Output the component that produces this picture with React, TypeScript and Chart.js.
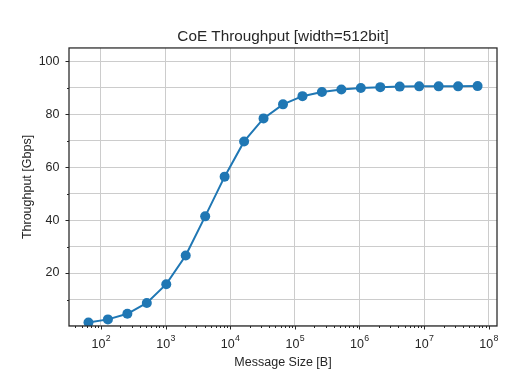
import { useEffect, useRef } from "react";
import { Chart, registerables } from "chart.js";

Chart.register(...registerables);

// ---- data ----
const MESSAGE_SIZES = [
  64, 128, 256, 512, 1024, 2048, 4096, 8192, 16384, 32768, 65536, 131072,
  262144, 524288, 1048576, 2097152, 4194304, 8388608, 16777216, 33554432,
  67108864,
];
const THROUGHPUT_GBPS = [
  1.3, 2.5, 4.6, 8.7, 15.8, 26.6, 41.4, 56.4, 69.7, 78.4, 83.7, 86.8, 88.4,
  89.3, 89.9, 90.2, 90.4, 90.5, 90.5, 90.5, 90.6,
];
const X_EXPONENTS = [2, 3, 4, 5, 6, 7, 8];
const Y_TICK_LABELS = [20, 40, 60, 80, 100];
const X_MIN = 32;
const X_MAX = 134217728;
const Y_MIN = 0;
const Y_MAX = 105;

const TITLE = "CoE Throughput [width=512bit]";
const X_TITLE = "Message Size [B]";
const Y_TITLE = "Throughput [Gbps]";

// ---- styles ----
const TEXT = "#262626";
const GRID = "#cccccc";
const LINE = "#1f77b4";
const FONT = "'Liberation Sans', Arial, Helvetica, sans-serif";

const isPow10 = (v: number) => {
  const l = Math.log10(v);
  return Math.abs(l - Math.round(l)) < 1e-9;
};

const mplAxesPlugin = {
  id: "mplAxes",
  afterDraw(chart: any) {
    const { ctx, chartArea } = chart;
    const xs = chart.scales.x;
    const ys = chart.scales.y;
    ctx.save();
    // frame
    ctx.strokeStyle = TEXT;
    ctx.lineWidth = 1.25;
    ctx.strokeRect(
      chartArea.left,
      chartArea.top,
      chartArea.right - chartArea.left,
      chartArea.bottom - chartArea.top
    );
    // x tick marks
    ctx.lineWidth = 1;
    ctx.beginPath();
    for (const t of xs.ticks) {
      const px = Math.round(xs.getPixelForValue(t.value)) + 0.5;
      const len = isPow10(t.value) ? 3.5 : 2;
      ctx.moveTo(px, chartArea.bottom);
      ctx.lineTo(px, chartArea.bottom + len);
    }
    // y tick marks
    for (const t of ys.ticks) {
      if (t.value <= Y_MIN) continue;
      const py = Math.round(ys.getPixelForValue(t.value)) + 0.5;
      const len = t.value % 20 === 0 ? 3.5 : 2;
      ctx.moveTo(chartArea.left, py);
      ctx.lineTo(chartArea.left - len, py);
    }
    ctx.stroke();
    // x tick labels 10^n
    ctx.fillStyle = TEXT;
    ctx.textBaseline = "alphabetic";
    ctx.textAlign = "left";
    const baseFont = `12.5px ${FONT}`;
    const supFont = `8.8px ${FONT}`;
    for (const e of X_EXPONENTS) {
      const px = xs.getPixelForValue(Math.pow(10, e));
      ctx.font = baseFont;
      const w1 = ctx.measureText("10").width;
      ctx.font = supFont;
      const w2 = ctx.measureText(String(e)).width;
      const start = px - (w1 + w2) / 2;
      ctx.font = baseFont;
      ctx.fillText("10", start, chartArea.bottom + 22.3);
      ctx.font = supFont;
      ctx.fillText(String(e), start + w1 + 0.3, chartArea.bottom + 14.7);
    }
    ctx.restore();
  },
};

export default function App() {
  const canvasRef = useRef<HTMLCanvasElement | null>(null);

  useEffect(() => {
    document.body.style.margin = "0";
    const canvas = canvasRef.current;
    if (!canvas) return;

    const points = MESSAGE_SIZES.map((x, i) => ({ x, y: THROUGHPUT_GBPS[i] }));

    const chart = new Chart(canvas, {
      type: "line",
      data: {
        datasets: [
          {
            data: points,
            borderColor: LINE,
            backgroundColor: LINE,
            borderWidth: 2,
            pointRadius: 5,
            pointBackgroundColor: LINE,
            pointBorderWidth: 0,
            pointBorderColor: LINE,
            tension: 0,
            fill: false,
          },
        ],
      },
      options: {
        responsive: false,
        maintainAspectRatio: false,
        devicePixelRatio: 1,
        animation: false,
        layout: { padding: { left: 0, right: 33, top: 0, bottom: 0 } },
        plugins: {
          legend: { display: false },
          tooltip: { enabled: false },
          title: {
            display: true,
            text: TITLE,
            color: TEXT,
            fullSize: false,
            font: { family: FONT, size: 15.3, weight: "normal", lineHeight: 1.2 },
            padding: { top: 27.5, bottom: 2.1 },
          },
        },
        scales: {
          x: {
            type: "logarithmic",
            min: X_MIN,
            max: X_MAX,
            border: { display: false },
            grid: {
              drawTicks: false,
              lineWidth: 1,
              color: (c: any) =>
                c.tick && isPow10(c.tick.value) ? GRID : "rgba(0,0,0,0)",
            },
            ticks: { display: false, autoSkip: false },
            afterBuildTicks: (scale: any) => {
              const ticks: { value: number }[] = [];
              for (let e = 1; e <= 8; e++) {
                for (let m = 1; m <= 9; m++) {
                  const v = m * Math.pow(10, e);
                  if (v >= X_MIN && v <= X_MAX) ticks.push({ value: v });
                }
              }
              scale.ticks = ticks;
            },
            afterFit: (scale: any) => {
              scale.height = 52;
            },
            title: {
              display: true,
              text: X_TITLE,
              color: TEXT,
              font: { family: FONT, size: 12.5, lineHeight: 1.2 },
              padding: { top: 0, bottom: 7.9 },
            },
          },
          y: {
            type: "linear",
            min: Y_MIN,
            max: Y_MAX,
            border: { display: false },
            grid: { drawTicks: false, lineWidth: 1, color: GRID },
            ticks: {
              stepSize: 10,
              includeBounds: false,
              autoSkip: false,
              padding: 9.5,
              color: TEXT,
              font: { family: FONT, size: 12.5 },
              callback: (v: any) =>
                Y_TICK_LABELS.includes(Number(v)) ? String(v) : "",
            },
            afterFit: (scale: any) => {
              scale.width = 69;
            },
            title: {
              display: true,
              text: Y_TITLE,
              color: TEXT,
              font: { family: FONT, size: 12.5, lineHeight: 1.2 },
              padding: { top: 20.5, bottom: 0 },
            },
          },
        },
      } as any,
      plugins: [mplAxesPlugin],
    });

    return () => chart.destroy();
  }, []);

  return (
    <div style={{ position: "fixed", left: 0, top: 0, width: 530, height: 378, background: "#ffffff" }}>
      <canvas ref={canvasRef} width={530} height={378} style={{ display: "block", width: 530, height: 378 }} />
    </div>
  );
}
